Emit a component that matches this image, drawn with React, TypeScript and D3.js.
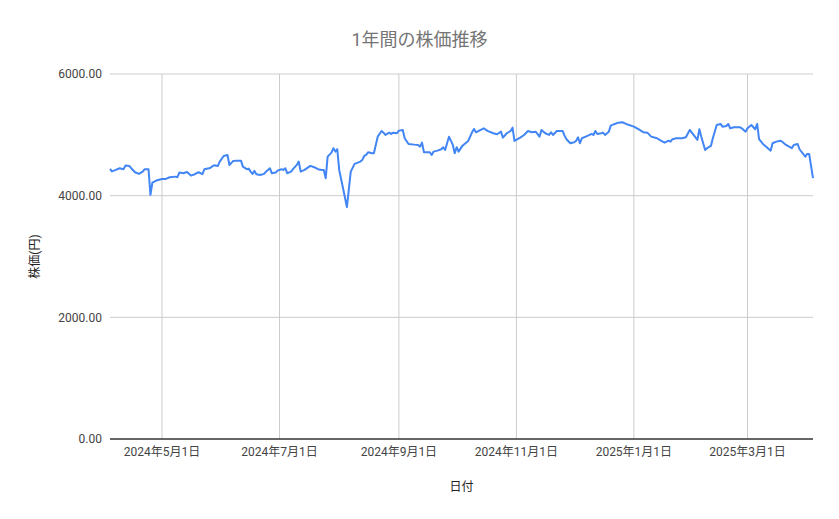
import React from 'react'
import * as d3 from 'd3'

// daily closes
const dates = [
  '2024-04-04', '2024-04-05', '2024-04-07', '2024-04-09', '2024-04-11', '2024-04-12', '2024-04-14', '2024-04-15',
  '2024-04-17', '2024-04-19', '2024-04-21', '2024-04-22', '2024-04-24', '2024-04-25', '2024-04-26', '2024-04-28',
  '2024-05-01', '2024-05-03', '2024-05-05', '2024-05-08', '2024-05-09', '2024-05-10', '2024-05-12', '2024-05-14',
  '2024-05-16', '2024-05-18', '2024-05-20', '2024-05-22', '2024-05-23', '2024-05-26', '2024-05-28', '2024-05-30',
  '2024-05-31', '2024-06-02', '2024-06-04', '2024-06-05', '2024-06-07', '2024-06-09', '2024-06-11', '2024-06-12',
  '2024-06-14', '2024-06-15', '2024-06-16', '2024-06-17', '2024-06-18', '2024-06-19', '2024-06-21', '2024-06-23',
  '2024-06-24', '2024-06-26', '2024-06-27', '2024-06-29', '2024-06-30', '2024-07-02', '2024-07-03', '2024-07-04',
  '2024-07-05', '2024-07-07', '2024-07-08', '2024-07-10', '2024-07-11', '2024-07-12', '2024-07-14', '2024-07-17',
  '2024-07-19', '2024-07-21', '2024-07-23', '2024-07-24', '2024-07-25', '2024-07-26', '2024-07-28', '2024-07-29',
  '2024-07-30', '2024-07-31', '2024-08-01', '2024-08-03', '2024-08-05', '2024-08-07', '2024-08-09', '2024-08-12',
  '2024-08-13', '2024-08-14', '2024-08-15', '2024-08-16', '2024-08-18', '2024-08-19', '2024-08-21', '2024-08-23',
  '2024-08-24', '2024-08-25', '2024-08-27', '2024-08-28', '2024-08-29', '2024-08-31', '2024-09-01', '2024-09-03',
  '2024-09-04', '2024-09-06', '2024-09-09', '2024-09-11', '2024-09-12', '2024-09-13', '2024-09-14', '2024-09-16',
  '2024-09-17', '2024-09-18', '2024-09-19', '2024-09-21', '2024-09-23', '2024-09-24', '2024-09-25', '2024-09-27',
  '2024-09-29', '2024-09-30', '2024-10-01', '2024-10-02', '2024-10-04', '2024-10-07', '2024-10-09', '2024-10-10',
  '2024-10-11', '2024-10-15', '2024-10-17', '2024-10-20', '2024-10-22', '2024-10-24', '2024-10-25', '2024-10-27',
  '2024-10-29', '2024-10-30', '2024-10-31', '2024-11-03', '2024-11-05', '2024-11-07', '2024-11-09', '2024-11-11',
  '2024-11-13', '2024-11-14', '2024-11-16', '2024-11-18', '2024-11-19', '2024-11-20', '2024-11-22', '2024-11-25',
  '2024-11-26', '2024-11-27', '2024-11-29', '2024-12-01', '2024-12-02', '2024-12-03', '2024-12-04', '2024-12-05',
  '2024-12-07', '2024-12-09', '2024-12-10', '2024-12-11', '2024-12-12', '2024-12-13', '2024-12-15', '2024-12-16',
  '2024-12-17', '2024-12-19', '2024-12-20', '2024-12-22', '2024-12-24', '2024-12-26', '2024-12-28', '2025-01-01',
  '2025-01-04', '2025-01-06', '2025-01-08', '2025-01-10', '2025-01-13', '2025-01-15', '2025-01-17', '2025-01-19',
  '2025-01-20', '2025-01-21', '2025-01-23', '2025-01-26', '2025-01-28', '2025-01-30', '2025-02-01', '2025-02-03',
  '2025-02-04', '2025-02-05', '2025-02-07', '2025-02-08', '2025-02-10', '2025-02-11', '2025-02-13', '2025-02-15',
  '2025-02-16', '2025-02-18', '2025-02-19', '2025-02-20', '2025-02-22', '2025-02-25', '2025-02-26', '2025-02-28',
  '2025-03-01', '2025-03-03', '2025-03-05', '2025-03-06', '2025-03-07', '2025-03-09', '2025-03-11', '2025-03-13',
  '2025-03-14', '2025-03-16', '2025-03-18', '2025-03-19', '2025-03-21', '2025-03-24', '2025-03-25', '2025-03-27',
  '2025-03-28', '2025-03-31', '2025-04-01', '2025-04-02', '2025-04-04'
]

const prices = [
  4440, 4399, 4423, 4451, 4435, 4494, 4489, 4451,
  4385, 4358, 4395, 4435, 4435, 4013, 4215, 4248,
  4275, 4275, 4303, 4313, 4303, 4379, 4369, 4390,
  4330, 4353, 4385, 4353, 4435, 4456, 4500, 4489,
  4560, 4653, 4670, 4505, 4571, 4576, 4576, 4477,
  4435, 4445, 4395, 4358, 4407, 4353, 4341, 4358,
  4395, 4451, 4369, 4379, 4412, 4435, 4423, 4451,
  4369, 4395, 4435, 4505, 4560, 4395, 4423, 4489,
  4468, 4435, 4423, 4423, 4287, 4642, 4707, 4780,
  4724, 4763, 4423, 4123, 3811, 4395, 4522, 4560,
  4588, 4653, 4670, 4714, 4698, 4698, 4970, 5064,
  5036, 4998, 5036, 5015, 5036, 5026, 5069, 5080,
  4944, 4850, 4839, 4834, 4806, 4872, 4714, 4714,
  4714, 4670, 4724, 4740, 4763, 4796, 4752, 4970,
  4834, 4698, 4796, 4724, 4822, 4900, 5042, 5097,
  5042, 5108, 5064, 5026, 5010, 5052, 4954, 5026,
  5064, 5118, 4900, 4954, 4998, 5064, 5042, 5052,
  4970, 5080, 5026, 4998, 5042, 4998, 5064, 5064,
  4987, 4928, 4862, 4878, 4900, 4960, 4862, 4944,
  4970, 4998, 5015, 4998, 5064, 5015, 5026, 5036,
  4998, 5052, 5151, 5179, 5200, 5207, 5179, 5134,
  5080, 5042, 5036, 4970, 4944, 4904, 4872, 4904,
  4888, 4928, 4944, 4944, 4960, 5080, 4998, 4916,
  5092, 4970, 4752, 4780, 4817, 4944, 5162, 5179,
  5134, 5146, 5179, 5108, 5125, 5125, 5108, 5052,
  5108, 5162, 5092, 5179, 4928, 4850, 4796, 4740,
  4862, 4888, 4904, 4888, 4834, 4780, 4834, 4850,
  4763, 4642, 4686, 4686, 4287
]

const xTickDates = ['2024-05-01', '2024-07-01', '2024-09-01', '2024-11-01', '2025-01-01', '2025-03-01']
const yTicks = [0, 2000, 4000, 6000]

const title = '1年間の株価推移'
const xTitle = '日付'
const yTitle = '株価(円)'

const W = 839
const H = 519
const margin = { top: 74, right: 26, bottom: 80, left: 110 }
const font = "Roboto, 'Noto Sans CJK JP', sans-serif"

export default function App() {
  const parse = d3.timeParse('%Y-%m-%d')
  const points = dates.map((d, i) => ({ date: parse(d)!, value: prices[i] }))

  const x = d3
    .scaleTime()
    .domain(d3.extent(points, d => d.date) as [Date, Date])
    .range([margin.left, W - margin.right])

  const y = d3
    .scaleLinear()
    .domain([0, 6000])
    .range([H - margin.bottom, margin.top])

  const line = d3
    .line<typeof points[0]>()
    .x(d => x(d.date))
    .y(d => y(d.value))

  const fmtDate = d3.timeFormat('%Y年%-m月%-d日')
  const fmtVal = d3.format('.2f')
  const xTicks = xTickDates.map(d => parse(d)!)
  const [x0, x1] = x.range()
  const y0 = y(0)

  return (
    <div style={{ position: 'absolute', left: 0, top: 0 }}>
      <svg width={W} height={H} style={{ display: 'block', background: '#fff' }} fontFamily={font}>
        {/* grid */}
        {yTicks.filter(t => t !== 0).map(t => (
          <line key={'gy' + t} x1={x0} x2={x1} y1={y(t)} y2={y(t)} stroke="#cccccc" strokeWidth={1} />
        ))}
        {xTicks.map(t => (
          <line key={'gx' + t.getTime()} x1={x(t)} x2={x(t)} y1={margin.top} y2={y0} stroke="#cccccc" strokeWidth={1} />
        ))}

        <path d={line(points) ?? ''} fill="none" stroke="#4285f4" strokeWidth={2} strokeLinejoin="round" />

        {/* baseline */}
        <line x1={x0} x2={x1} y1={y0} y2={y0} stroke="#333333" strokeWidth={1.5} />

        {/* y tick labels */}
        {yTicks.map(t => (
          <text key={'ly' + t} x={x0 - 8} y={y(t)} dy="0.35em" textAnchor="end" fontSize={12} fill="#444444">
            {fmtVal(t)}
          </text>
        ))}

        {/* x tick labels */}
        {xTicks.map(t => (
          <text key={'lx' + t.getTime()} x={x(t)} y={y0 + 17} textAnchor="middle" fontSize={12} fill="#444444">
            {fmtDate(t)}
          </text>
        ))}

        <text x={W / 2} y={46} textAnchor="middle" fontSize={18} fill="#757575">
          {title}
        </text>
        <text x={(x0 + x1) / 2} y={y0 + 52} textAnchor="middle" fontSize={12} fill="#222222">
          {xTitle}
        </text>
        <text
          transform={`translate(35,${(margin.top + y0) / 2}) rotate(-90)`}
          textAnchor="middle"
          dominantBaseline="central"
          fontSize={12}
          fill="#222222"
        >
          {yTitle}
        </text>
      </svg>
    </div>
  )
}
